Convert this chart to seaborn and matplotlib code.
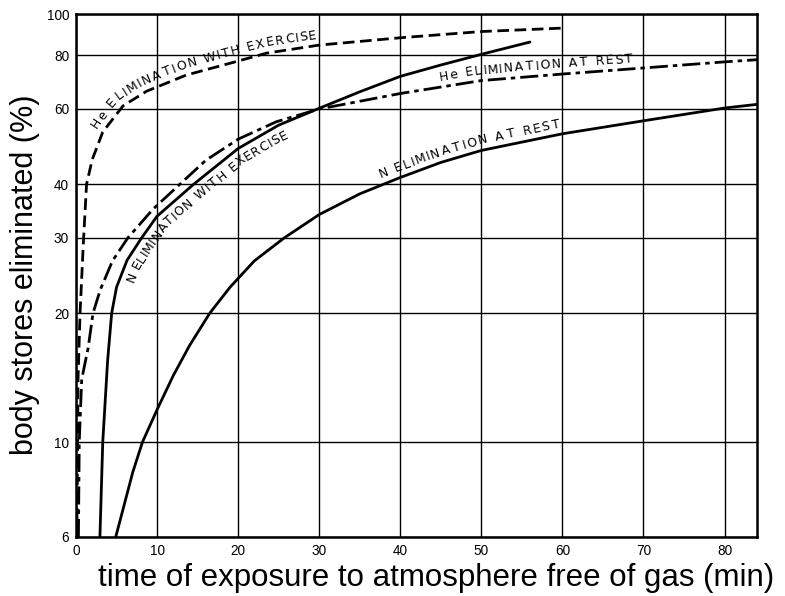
import numpy as np
import pandas as pd
import matplotlib
matplotlib.use("Agg")
import matplotlib.pyplot as plt
from matplotlib.ticker import NullLocator
from matplotlib.font_manager import FontProperties
from matplotlib.textpath import TextPath
import seaborn as sns

# ---------------- data ----------------
# time of exposure (min) and body stores eliminated (%)
he_ex_time = [0.1, 0.2, 0.25, 0.5, 0.9, 1.3, 2.0, 3.3, 5.8, 8.7, 13.6, 19.3, 23.5, 30, 40, 50, 60]
he_ex_pct = [6, 10, 14, 20, 29, 40, 45.7, 53, 61, 66, 72, 77, 81, 84.6, 88, 91, 92.7]

he_rest_time = [0.3, 0.4, 0.7, 1.5, 2.1, 3.0, 4.5, 6.4, 9.5, 12.8, 16, 20, 24.7, 30, 33, 40, 50, 60, 70, 80, 84]
he_rest_pct = [6, 10, 14, 16.6, 20, 22.7, 26.5, 30, 35, 40, 45.5, 51, 56, 60, 61.5, 65.2, 69.9, 72.4, 74.8, 77.3, 78.2]

n_ex_time = [2.95, 3.3, 3.9, 4.4, 5.0, 6.3, 8.1, 10, 14.5, 20, 25, 29.8, 35, 40, 45, 50, 56]
n_ex_pct = [6, 10, 15.5, 20, 23, 26.6, 30, 33.7, 40, 48.5, 55, 60, 65.8, 71.5, 76, 80.5, 86]

n_rest_time = [4.9, 6.0, 7.0, 8.2, 10, 12, 14, 16.5, 19, 22, 25.7, 30, 35, 40, 45, 50, 60, 70, 80, 84]
n_rest_pct = [6, 7.2, 8.5, 10, 11.9, 14.3, 16.8, 20, 23, 26.5, 30, 34, 38, 41.5, 45, 48, 52.5, 56.3, 60.3, 61.5]

x_ticks = [0, 10, 20, 30, 40, 50, 60, 70, 80]
y_ticks = [6, 10, 20, 30, 40, 60, 80, 100]
y_tick_labels = ["6", "10", "20", "30", "40", "60", "80", "100"]

label_he_ex = "He ELIMINATION WITH EXERCISE"
label_he_rest = "He ELIMINATION AT REST"
label_n_ex = "N ELIMINATION WITH EXERCISE"
label_n_rest = "N ELIMINATION AT REST"
x_label = "time of exposure to atmosphere free of gas (min)"
y_label = "body stores eliminated (%)"

# ---------------- figure ----------------
sns.set_theme(style="white")
plt.rcParams["font.family"] = ["Liberation Sans", "DejaVu Sans"]

W, H = 785, 596
fig = plt.figure(figsize=(W / 100, H / 100), dpi=100)
ax = fig.add_axes([76 / W, 1 - 537 / H, (757 - 76) / W, (537 - 14) / H])
ax.set_yscale("log")
ax.set_xlim(0, 84)
ax.set_ylim(6, 100)

curves = [
    (he_ex_time, he_ex_pct, (0, (4.2, 2.0))),
    (he_rest_time, he_rest_pct, (0, (6.5, 1.8, 1.6, 1.8))),
    (n_ex_time, n_ex_pct, "-"),
    (n_rest_time, n_rest_pct, "-"),
]
for t, v, ls in curves:
    df = pd.DataFrame({"time": t, "pct": v})
    sns.lineplot(data=df, x="time", y="pct", ax=ax, color="black", lw=2.0,
                 linestyle=ls, sort=False, estimator=None, legend=False, zorder=3)

ax.set_xlim(0, 84)
ax.set_ylim(6, 100)
ax.set_xticks(x_ticks)
ax.set_yticks(y_ticks)
ax.yaxis.set_minor_locator(NullLocator())
ax.set_yticklabels(y_tick_labels)
ax.grid(True, color="black", lw=1.0)
ax.set_axisbelow(True)
ax.tick_params(axis="both", length=0, pad=5, labelsize=9.8, colors="black")
for sp in ax.spines.values():
    sp.set_visible(True)
    sp.set_color("black")
    sp.set_linewidth(1.8)

ax.set_xlabel(x_label, fontsize=22.5, va="center", color="black")
ax.xaxis.set_label_coords(436 / W, 1 - 578 / H, transform=fig.transFigure)
ax.set_ylabel(y_label, fontsize=22, va="center", color="black")
ax.yaxis.set_label_coords(25 / W, 1 - 275 / H, transform=fig.transFigure)

# ---------------- labels following the curves ----------------
lab_fp = FontProperties(family="DejaVu Sans", size=9.0)
SPACE_W = 3.0


def ink_width(ch):
    if ch == " ":
        return SPACE_W
    tp = TextPath((0, 0), ch, size=lab_fp.get_size_in_points(), prop=lab_fp)
    return tp.get_extents().width * 100 / 72


def curved_label(xs, ys, text, x_start, offset, length):
    pts = ax.transData.transform(np.column_stack([xs, ys]))
    seg = np.hypot(np.diff(pts[:, 0]), np.diff(pts[:, 1]))
    cum = np.concatenate([[0], np.cumsum(seg)])
    s_d = np.linspace(0, cum[-1], 4000)
    px = np.interp(s_d, cum, pts[:, 0])
    py = np.interp(s_d, cum, pts[:, 1])
    xstart_disp = ax.transData.transform((x_start, 10))[0]
    s = np.interp(xstart_disp, px, s_d)
    widths = [ink_width(c) for c in text]
    gap = (length - sum(widths)) / (len(text) - 1)
    inv = ax.transData.inverted()
    for ch, w in zip(text, widths):
        sc = s + w / 2
        p = np.array([np.interp(sc, s_d, px), np.interp(sc, s_d, py)])
        a = np.array([np.interp(sc - 7, s_d, px), np.interp(sc - 7, s_d, py)])
        b = np.array([np.interp(sc + 7, s_d, px), np.interp(sc + 7, s_d, py)])
        d = b - a
        d /= np.hypot(*d)
        nrm = np.array([-d[1], d[0]])
        q = p + offset * nrm
        ang = np.degrees(np.arctan2(d[1], d[0]))
        xd, yd = inv.transform(q)
        if ch != " ":
            ax.text(xd, yd, ch, fontproperties=lab_fp, rotation=ang, rotation_mode="anchor",
                    ha="center", va="center", color="black", zorder=4)
        s += w + gap


curved_label(he_ex_time, he_ex_pct, label_he_ex, 3.3, 10.5, 238)
curved_label(he_rest_time, he_rest_pct, label_he_rest, 45.2, 10, 192)
curved_label(n_ex_time, n_ex_pct, label_n_ex, 5.5, -11.5, 226)
curved_label(n_rest_time, n_rest_pct, label_n_rest, 38.0, 10, 185)

fig.savefig("out.png", dpi=100, facecolor="white")
